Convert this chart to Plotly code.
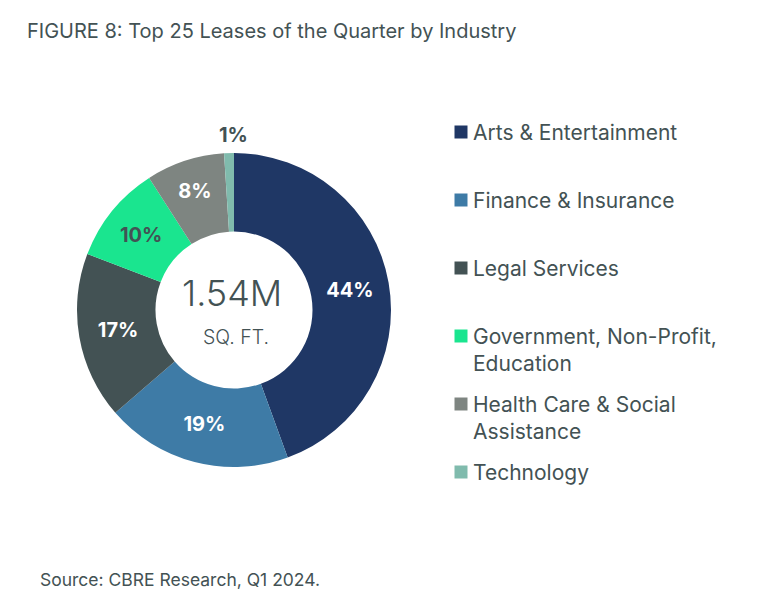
import plotly.graph_objects as go

categories = ["Arts & Entertainment", "Finance & Insurance", "Legal Services",
              "Government, Non-Profit,<br>Education", "Health Care & Social<br>Assistance", "Technology"]
shares = [44, 19, 17, 10, 8, 1]
colors = ["#1F3765", "#3E7BA6", "#435254", "#1AE58F", "#7E8581", "#80BBAD"]
label_colors = ["white", "white", "white", "#435254", "white", "#435254"]
positions = ["inside", "inside", "inside", "inside", "inside", "none"]
legend_index = list(range(len(categories)))

TXT = "#435254"
FONT = "Inter"
W, H, OFF = 767, 611, 8


def px(X):
    return (X - OFF) / W


def py(Y):
    return 1 - (Y - OFF) / H


CX, CY, R = 234, 310, 157

fig = go.Figure()
fig.add_trace(go.Pie(
    values=shares,
    labels=categories,
    text=[f"{v}%" for v in shares],
    textinfo="text",
    textposition=positions,
    insidetextorientation="horizontal",
    textfont=dict(family=FONT, size=20, color=label_colors, weight="bold"),
    marker=dict(colors=colors, line=dict(width=0)),
    hole=0.5,
    sort=False,
    direction="clockwise",
    rotation=0,
    domain=dict(x=[px(CX - R), px(CX + R)], y=[py(CY + R), py(CY - R)]),
    showlegend=False,
    hoverinfo="skip",
))

# custom legend via marker scatter on secondary axes
fig.add_trace(go.Scatter(
    x=[0] * len(categories), y=legend_index,
    mode="markers",
    marker=dict(symbol="square", size=13, color=colors),
    xaxis="x2", yaxis="y2", showlegend=False, hoverinfo="skip",
    cliponaxis=False,
))

annotations = []
for i, name in zip(legend_index, categories):
    annotations.append(dict(
        x=0, y=i, xref="x2", yref="y2", text=name, showarrow=False,
        xanchor="left", yanchor="top", align="left", xshift=10, yshift=14.5,
        font=dict(family=FONT, size=21, color=TXT),
    ))

annotations += [
    dict(x=px(CX), y=py(CY - R - 4), xref="paper", yref="paper", text=f"{shares[-1]}%",
         showarrow=False, xanchor="center", yanchor="bottom",
         font=dict(family=FONT, size=20, color=TXT, weight="bold")),
    dict(x=px(CX - 2), y=py(293), xref="paper", yref="paper", text="1.54M", showarrow=False,
         xanchor="center", yanchor="middle", font=dict(family=FONT, size=36, color=TXT, weight=300)),
    dict(x=px(CX + 2), y=py(337), xref="paper", yref="paper", text="SQ. FT.", showarrow=False,
         xanchor="center", yanchor="middle", font=dict(family=FONT, size=19.5, color=TXT, weight=300)),
    dict(x=px(25), y=py(31), xref="paper", yref="paper",
         text="FIGURE 8: Top 25 Leases of the Quarter by Industry", showarrow=False,
         xanchor="left", yanchor="middle", font=dict(family=FONT, size=20, color=TXT)),
    dict(x=px(38), y=py(579), xref="paper", yref="paper",
         text="Source: CBRE Research, Q1 2024.", showarrow=False,
         xanchor="left", yanchor="middle", font=dict(family=FONT, size=17.5, color=TXT)),
]

fig.update_layout(
    width=W, height=H,
    margin=dict(l=0, r=0, t=0, b=0),
    paper_bgcolor="white", plot_bgcolor="white",
    xaxis2=dict(domain=[px(461), 1.0], range=[0, 1], visible=False, fixedrange=True),
    yaxis2=dict(domain=[py(506), py(98)], range=[5.5, -0.5], visible=False,
                fixedrange=True, anchor="x2"),
    annotations=annotations,
    font=dict(family=FONT, color=TXT),
)

fig.write_html("out.html")
